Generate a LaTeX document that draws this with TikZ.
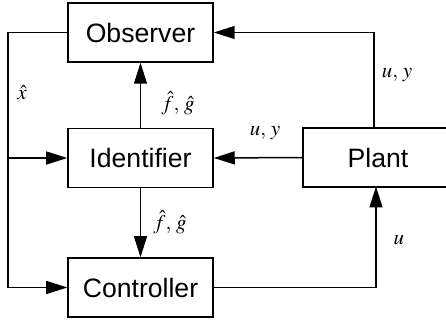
\documentclass[tikz,border=0pt]{standalone}
\usepackage{amsmath}
\usepackage{mathptmx}
\usepackage{fontspec}
\setmainfont{Liberation Sans}
\usetikzlibrary{arrows.meta}
\tikzset{
    block/.style={draw, line width=0.75pt, minimum width=72.5pt, minimum height=29.5pt,
        inner sep=0pt, font=\fontsize{13.3}{16}\selectfont},
    link/.style={line width=0.75pt, -{Triangle[length=10.5pt,width=6.5pt]}},
    sig/.style={font=\fontsize{10.5}{12}\selectfont}
}

\begin{document}
\begin{tikzpicture}[x=0.5pt, y=-0.5pt]
    \useasboundingbox (0,0) rectangle (446,321);
    % Draw blocks
    \node[block] (obs) at (140.5,32.5) {Observer};
    \node[block] (ident) at (140.5,158) {Identifier};
    \node[block] (ctrl) at (140.5,287.5) {Controller};
    \node[block, minimum width=75pt] (plant) at (378,157.5) {Plant};
    % Draw state estimate feedback
    \coordinate (lft) at (8,32.5);
    \draw[link] (obs.west) -- (lft) |- (ctrl.west);
    \draw[link] (lft |- ident.west) -- (ident.west);
    \node[sig] (xhat) at (22,93) {$\hat{x}$};
    % Draw identifier outputs
    \draw[link] (ident.north) -- (obs.south);
    \node[sig] (fg1) at (178,103) {$\hat{f},\,\hat{g}$};
    \draw[link] (ident.south) -- (ctrl.north);
    \node[sig] (fg2) at (170,222) {$\hat{f},\,\hat{g}$};
    % Draw plant signals
    \coordinate (ptop) at (374,128.5);
    \draw[link] (ptop) |- (obs.east);
    \node[sig] (uy1) at (397,75) {$u,\,y$};
    \draw[link] (plant.west) -- (ident.east);
    \node[sig] (uy2) at (265,133) {$u,\,y$};
    \coordinate (pbot) at (376,186.5);
    \draw[link] (ctrl.east) -| (pbot);
    \node[sig] (u) at (399,240) {$u$};
\end{tikzpicture}
\end{document}
